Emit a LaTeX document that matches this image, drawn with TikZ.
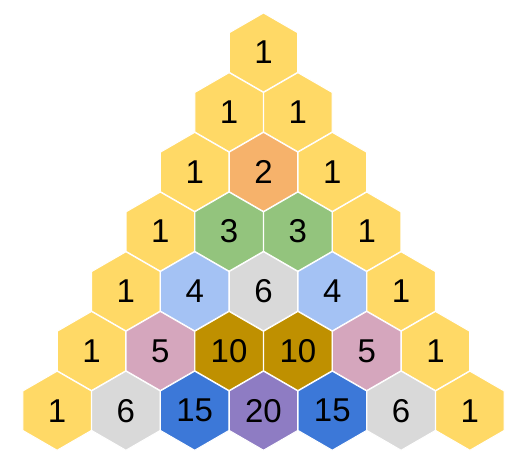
\documentclass[tikz,border=0pt]{standalone}
\usepackage{fontspec}
\setmainfont{Liberation Sans}
\usetikzlibrary{shapes.geometric}
\definecolor{cY}{HTML}{FFD966}
\definecolor{cO}{HTML}{F6B26B}
\definecolor{cG}{HTML}{93C47D}
\definecolor{cLB}{HTML}{A4C2F4}
\definecolor{cGr}{HTML}{D9D9D9}
\definecolor{cP}{HTML}{D5A6BD}
\definecolor{cD}{HTML}{BF9000}
\definecolor{cB}{HTML}{3C78D8}
\definecolor{cV}{HTML}{8E7CC3}
\tikzset{hexcell/.style={regular polygon, regular polygon sides=6, shape border rotate=30,
  minimum size=79pt, inner sep=0pt, outer sep=0pt, draw=white, line width=1pt,
  font=\fontsize{33}{33}\selectfont, text=black}}
\begin{document}
\begin{tikzpicture}[x=1pt,y=1pt]
\useasboundingbox (0,0) rectangle (527,-464);
\foreach \r/\k/\v/\c in {
0/0/1/cY,
1/0/1/cY, 1/1/1/cY,
2/0/1/cY, 2/1/2/cO, 2/2/1/cY,
3/0/1/cY, 3/1/3/cG, 3/2/3/cG, 3/3/1/cY,
4/0/1/cY, 4/1/4/cLB, 4/2/6/cGr, 4/3/4/cLB, 4/4/1/cY,
5/0/1/cY, 5/1/5/cP, 5/2/10/cD, 5/3/10/cD, 5/4/5/cP, 5/5/1/cY,
6/0/1/cY, 6/1/6/cGr, 6/2/15/cB, 6/3/20/cV, 6/4/15/cB, 6/5/6/cGr, 6/6/1/cY}
{
  \node[hexcell, fill=\c] (h\r-\k) at ({263.5+(\k-\r/2)*68.8}, {-(52.5+\r*59.7)}) {\v};
}
\end{tikzpicture}
\end{document}
